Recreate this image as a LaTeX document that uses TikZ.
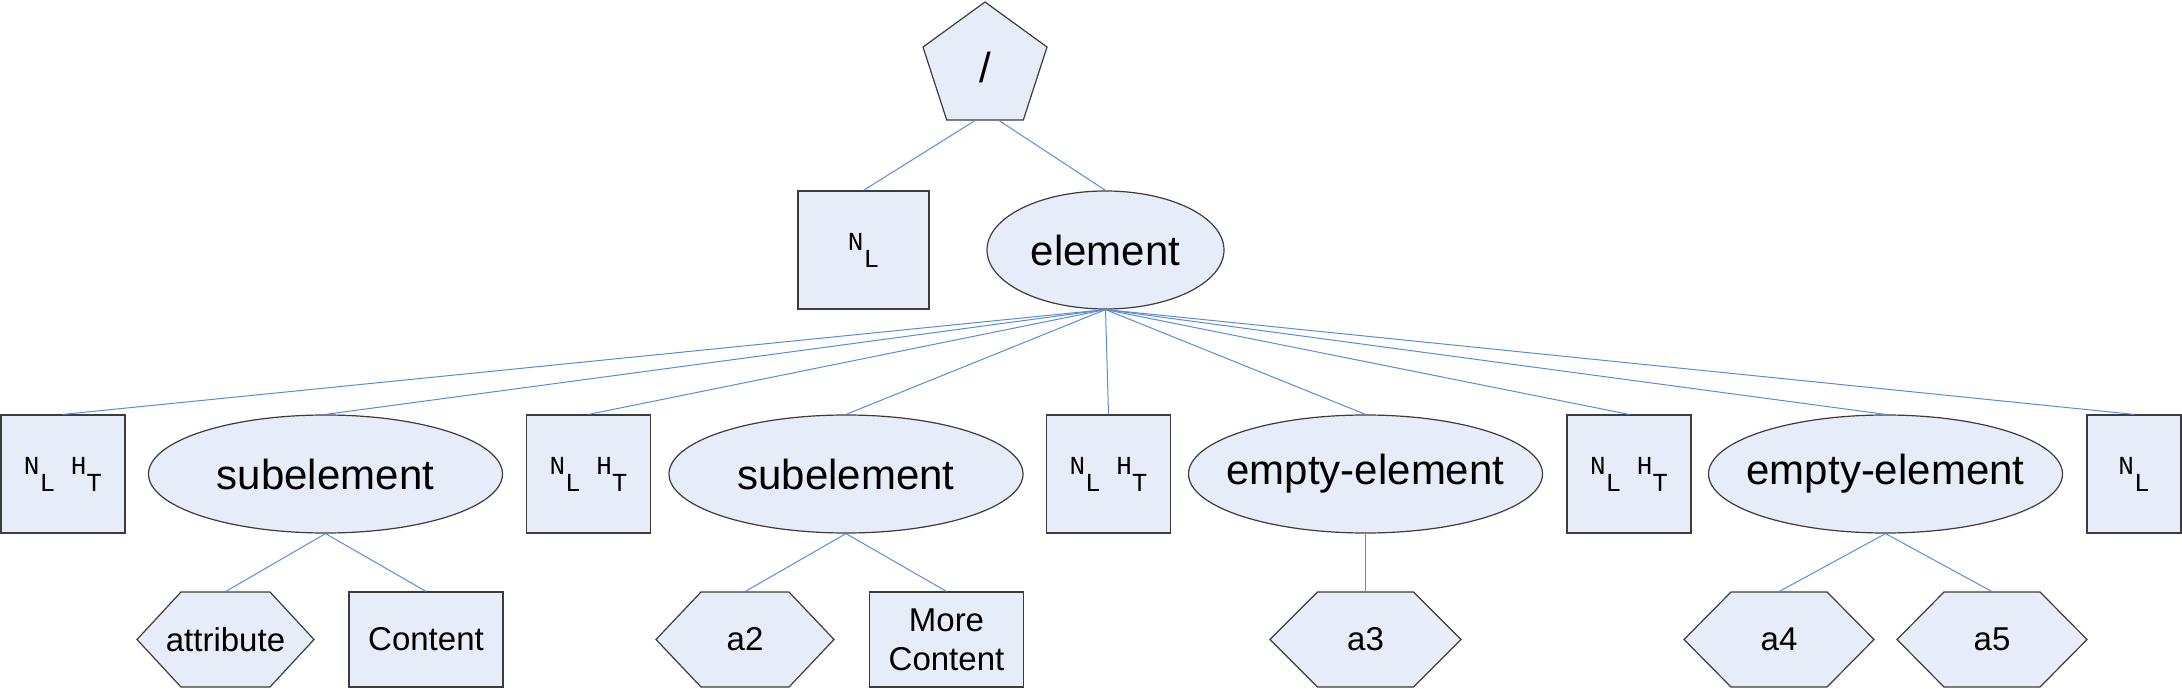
\documentclass[tikz,border=0pt]{standalone}
\usepackage{fontspec}
\setmainfont{Liberation Sans}
\newfontfamily\ctlfont{Liberation Mono}
\usetikzlibrary{shapes.geometric}

% control pictures for newline and tab
\newcommand{\ctlnl}{{\ctlfont\fontsize{13pt}{13pt}\selectfont N\raisebox{-8.5pt}{L}}}
\newcommand{\ctlnlht}{{\ctlfont\fontsize{13pt}{13pt}\selectfont N\raisebox{-8.5pt}{L} H\raisebox{-8.5pt}{T}}}

\begin{document}
\begin{tikzpicture}[
        % one unit is one pixel of the reference, y runs downwards
        x=0.5pt, y=-0.5pt,
        font=\fontsize{21pt}{25pt}\selectfont
    ]
        % Define custom colors
        \definecolor{xmlfill}{RGB}{230,236,248}
        \definecolor{xmlline}{RGB}{60,60,60}
        \definecolor{linkblue}{RGB}{90,140,214}

        % Define node styles
        \tikzstyle{xmlnode}=[draw=xmlline, fill=xmlfill, line width=0.6pt, inner sep=0pt, align=center]
        \tikzstyle{ctlbox}=[xmlnode, rectangle, minimum width=62pt, minimum height=59pt]
        \tikzstyle{elem}=[xmlnode, ellipse, minimum width=177pt, minimum height=59pt, inner xsep=-12pt]
        \tikzstyle{contentbox}=[xmlnode, rectangle, minimum width=77pt, minimum height=47.5pt, font=\fontsize{16.5pt}{19.5pt}\selectfont]
        \tikzstyle{hexlabel}=[inner sep=0pt, minimum height=47.5pt, font=\fontsize{16.5pt}{19.5pt}\selectfont]
        \tikzstyle{hexa}=[draw=xmlline, fill=xmlfill, line width=0.6pt]
        \tikzstyle{link}=[draw=linkblue, line width=0.5pt]

        \useasboundingbox (0,0) rectangle (2182,689);

        % --- Root and first level ---
        \node[xmlnode, regular polygon, regular polygon sides=5, minimum size=65.2pt] (root) at (985,67.2) {/};
        \node[ctlbox, minimum width=65.5pt] (toplf) at (863.5,250) {\ctlnl};
        \node[elem, minimum width=118.5pt] (element) at (1105.5,250) {element};

        % --- Children of element ---
        \node[ctlbox] (sep1) at (63,474) {\ctlnlht};
        \node[elem] (sub1) at (325.5,474) {subelement};
        \node[ctlbox] (sep2) at (588.5,474) {\ctlnlht};
        \node[elem] (sub2) at (846,474) {subelement};
        \node[ctlbox] (sep3) at (1108.5,474) {\ctlnlht};
        \node[elem] (empty1) at (1365.5,474) {empty-element};
        \node[ctlbox] (sep4) at (1629,474) {\ctlnlht};
        \node[elem] (empty2) at (1885.5,474) {empty-element};
        \node[ctlbox, minimum width=47pt] (sep5) at (2134,474) {\ctlnl};

        % --- Attributes (hexagons) and contents ---
        \draw[hexa] (137,639.5) -- (181,592) -- (270,592) -- (314,639.5) -- (270,687) -- (181,687) -- cycle;
        \node[hexlabel, minimum width=88.5pt] (attr) at (225.5,639.5) {attribute};
        \node[contentbox] (content) at (426,639.5) {Content};

        \draw[hexa] (656,639.5) -- (701,592) -- (789,592) -- (834,639.5) -- (789,687) -- (701,687) -- cycle;
        \node[hexlabel, minimum width=89pt] (a2) at (745,639.5) {a2};
        \node[contentbox] (morecontent) at (946.5,639.5) {More\\Content};

        \draw[hexa] (1270,639.5) -- (1317.5,592) -- (1413.5,592) -- (1461,639.5) -- (1413.5,687) -- (1317.5,687) -- cycle;
        \node[hexlabel, minimum width=95.5pt] (a3) at (1365.5,639.5) {a3};

        \draw[hexa] (1684,639.5) -- (1731,592) -- (1827,592) -- (1874,639.5) -- (1827,687) -- (1731,687) -- cycle;
        \node[hexlabel, minimum width=95pt] (a4) at (1779,639.5) {a4};

        \draw[hexa] (1897,639.5) -- (1944,592) -- (2040,592) -- (2087,639.5) -- (2040,687) -- (1944,687) -- cycle;
        \node[hexlabel, minimum width=95pt] (a5) at (1992,639.5) {a5};

        % --- Connections ---
        \draw[link] ([xshift=-5pt]root.south) -- (toplf.north);
        \draw[link] ([xshift=7pt]root.south) -- (element.north);

        \draw[link] (element.south) -- (sep1.north);
        \draw[link] (element.south) -- (sub1.north);
        \draw[link] (element.south) -- (sep2.north);
        \draw[link] (element.south) -- (sub2.north);
        \draw[link] (element.south) -- (sep3.north);
        \draw[link] (element.south) -- (empty1.north);
        \draw[link] (element.south) -- (sep4.north);
        \draw[link] (element.south) -- (empty2.north);
        \draw[link] (element.south) -- (sep5.north);

        \draw[link] (sub1.south) -- (attr.north);
        \draw[link] (sub1.south) -- (content.north);
        \draw[link] (sub2.south) -- (a2.north);
        \draw[link] (sub2.south) -- (morecontent.north);
        \draw[link] (empty1.south) -- (a3.north);
        \draw[link] (empty2.south) -- (a4.north);
        \draw[link] (empty2.south) -- (a5.north);

    \end{tikzpicture}
\end{document}
